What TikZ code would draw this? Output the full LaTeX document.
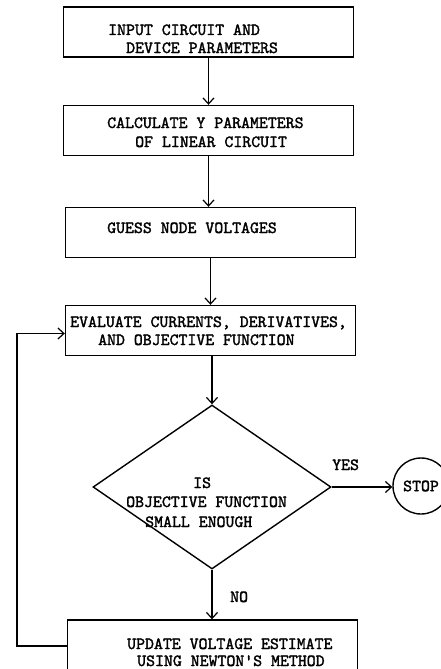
\documentclass[tikz,border=0pt]{standalone}
\usepackage{fontspec}
\newfontfamily\typewr{lmmono10-regular.otf}[FakeBold=1.8]
\usetikzlibrary{shapes.geometric,arrows.meta,positioning}
\begin{document}
\begin{tikzpicture}[x=1pt, y=-1pt,
  box/.style={rectangle,draw,line width=1.4pt,minimum width=290pt,minimum height=50pt,inner sep=0pt},
  txt/.style={anchor=base west,inner sep=0pt,font=\typewr\fontsize{17}{18}\selectfont},
  flow/.style={line width=1.2pt,-{Straight Barb[length=6pt,width=11pt]}}]%
  \clip (0,0) rectangle (441,669);

  \node[box] (input) at (208.5,32) {};
  \node[txt] (t11) at (108,35) {INPUT CIRCUIT AND};
  \node[txt] (t12) at (126,53) {DEVICE PARAMETERS};

  \node[box] (ypar) at (208.5,130.5) {};
  \node[txt] (t21) at (107,128) {CALCULATE Y PARAMETERS};
  \node[txt] (t22) at (135,147) {OF LINEAR CIRCUIT};

  \node[box] (guess) at (210.5,232.5) {};
  \node[txt] (t31) at (107,233) {GUESS NODE VOLTAGES};

  \node[box] (eval) at (210.5,330.5) {};
  \node[txt] (t41) at (70,327) {EVALUATE CURRENTS, DERIVATIVES,};
  \node[txt] (t42) at (98,345) {AND OBJECTIVE FUNCTION};

  \node[diamond,draw,line width=1.4pt,minimum width=238pt,minimum height=164pt,inner sep=0pt] (test) at (212,487) {};
  \node[txt] (t51) at (193,488) {IS};
  \node[txt] (t52) at (126,507) {OBJECTIVE FUNCTION};
  \node[txt] (t53) at (145,527) {SMALL ENOUGH};

  \node[circle,draw,line width=1.4pt,minimum size=56pt,inner sep=0pt,font=\typewr\fontsize{17}{18}\selectfont] (stop) at (421,486) {STOP};

  \node[box,minimum height=52pt] (update) at (212.5,646) {};
  \node[txt] (t61) at (127,649) {UPDATE VOLTAGE ESTIMATE};
  \node[txt] (t62) at (137,666) {USING NEWTON'S METHOD};

  \node[txt] (yes) at (332,470) {YES};
  \node[txt] (no) at (230,602) {NO};
  \coordinate (loop) at (17,646);

  \draw[flow] (input.south) -- (input.south |- ypar.north);
  \draw[flow] (ypar.south) -- (ypar.south |- guess.north);
  \draw[flow] (guess.south) -- (guess.south |- eval.north);
  \draw[flow] (eval.south) -- (eval.south -| test.north) -- (test.north);
  \draw[flow] (test.east) -- (test.east -| stop.west);
  \draw[flow] (test.south) -- (test.south |- update.north);
  \draw[flow] (update.west) -- (loop) |- ([yshift=-3pt]eval.west);
\end{tikzpicture}
\end{document}
